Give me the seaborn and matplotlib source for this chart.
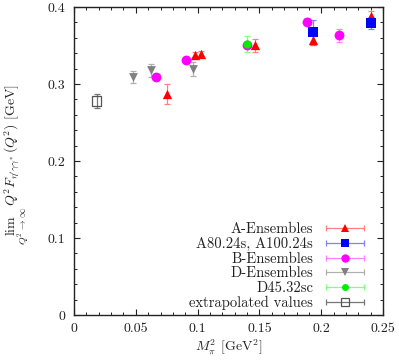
import numpy as np
import pandas as pd
import matplotlib
matplotlib.use("Agg")
import matplotlib.pyplot as plt
import seaborn as sns
from matplotlib.lines import Line2D
from matplotlib.legend_handler import HandlerLine2D, HandlerTuple
from matplotlib.ticker import FuncFormatter, MultipleLocator

# ---- data ----
a_x = [0.075, 0.0977, 0.103, 0.1467, 0.1936, 0.240]
a_y = [0.287, 0.3377, 0.3386, 0.350, 0.357, 0.388]
a_e = [0.0125, 0.004, 0.004, 0.008, 0.006, 0.007]

a2_x = [0.1936, 0.2405]
a2_y = [0.367, 0.379]
a2_e = [0.016, 0.008]

b_x = [0.0663, 0.0906, 0.1397, 0.1883, 0.2146]
b_y = [0.309, 0.331, 0.3507, 0.381, 0.363]
b_e = [0.003, 0.004, 0.004, 0.005, 0.008]

d_x = [0.048, 0.062, 0.096]
d_y = [0.309, 0.3176, 0.320]
d_e = [0.008, 0.009, 0.009]

g_x = [0.140]
g_y = [0.3516]
g_e = [0.0105]

e_x = [0.0184]
e_y = [0.278]
e_e = [0.009]

labels = ["A-Ensembles", "A80.24s, A100.24s", "B-Ensembles",
          "D-Ensembles", "D45.32sc", "extrapolated values"]

sns.set_theme(style="ticks")
plt.rcParams["font.family"] = ["cmr10", "DejaVu Serif"]
plt.rcParams["mathtext.fontset"] = "cm"
plt.rcParams["axes.formatter.use_mathtext"] = True

fig = plt.figure(figsize=(3.99, 3.60), dpi=100)
ax = fig.add_axes([0.1855, 0.125, 0.96 - 0.1855, 0.9806 - 0.125])

groups = [
    (a_x, a_y, a_e, "#ff0000", "^", 45, "#ff0000", "#ff8080"),
    (a2_x, a2_y, a2_e, "#0000ff", "s", 45, "#0000ff", "#8080ff"),
    (b_x, b_y, b_e, "#ff00ff", "o", 50, "#ff00ff", "#ff80ff"),
    (d_x, d_y, d_e, "#808080", "v", 40, "#808080", "#b0b0b0"),
    (g_x, g_y, g_e, "#00ee00", "o", 35, "#00ee00", "#80ff80"),
    (e_x, e_y, e_e, "none", "s", 45, "#555555", "#777777"),
]

for i, (x, y, e, fc, m, s, ec, errc) in enumerate(groups):
    ax.errorbar(x, y, yerr=e, fmt="none", ecolor=errc, elinewidth=0.9,
                capsize=2.5, capthick=0.9, zorder=2)
    df = pd.DataFrame({"x": x, "y": y})
    sns.scatterplot(data=df, x="x", y="y", marker=m, s=s, ax=ax,
                    color=fc if fc != "none" else "white",
                    facecolor=fc, edgecolor=ec if fc == "none" else fc,
                    linewidth=0.9 if fc == "none" else 0, zorder=3, legend=False)

ax.set_xlim(0, 0.25)
ax.set_ylim(0, 0.4)
ax.xaxis.set_major_locator(MultipleLocator(0.05))
ax.xaxis.set_minor_locator(MultipleLocator(0.01))
ax.yaxis.set_major_locator(MultipleLocator(0.1))
ax.yaxis.set_minor_locator(MultipleLocator(0.02))
fmt = FuncFormatter(lambda v, p: "%g" % round(v, 4))
ax.xaxis.set_major_formatter(fmt)
ax.yaxis.set_major_formatter(fmt)
ax.tick_params(which="both", direction="in", top=True, right=True,
               labelsize=10, colors="#222222", pad=6)
ax.tick_params(which="major", length=4.5, width=0.8)
ax.tick_params(which="minor", length=2.3, width=0.7)
for sp in ax.spines.values():
    sp.set_linewidth(1.0)
    sp.set_color("#222222")

ax.set_xlabel(r"$M_\pi^2$ [GeV$^2$]", fontsize=10, labelpad=2)
ax.set_ylabel(r"$\lim_{Q^2\to\infty}\, Q^2 F_{\eta'\gamma\gamma^*}(Q^2)$ [GeV]",
              fontsize=10)
ax.yaxis.set_label_coords(-0.14, 0.49)

# legend
handles = []
hmap = {}
for (x, y, e, fc, m, s, ec, errc) in groups:
    caps = Line2D([], [], color=errc, lw=0.9, marker="|", markersize=5,
                  markeredgewidth=0.9)
    mk = Line2D([], [], ls="none", marker=m, markersize=np.sqrt(s) * 0.85,
                markerfacecolor=fc, markeredgecolor=ec if fc == "none" else fc,
                markeredgewidth=0.9 if fc == "none" else 0)
    hmap[caps] = HandlerLine2D(numpoints=2)
    hmap[mk] = HandlerLine2D(numpoints=1)
    handles.append((caps, mk))
hmap[tuple] = HandlerTuple(ndivide=1)
leg = ax.legend(handles, labels, handler_map=hmap, loc="lower right",
                bbox_to_anchor=(0.972, -0.004), frameon=False, markerfirst=False,
                fontsize=10.5, handlelength=3.2, handletextpad=0.6,
                labelspacing=0.07, borderaxespad=0.0)
for t in leg.get_texts():
    t.set_color("#222222")

fig.savefig("out.png", dpi=100)
